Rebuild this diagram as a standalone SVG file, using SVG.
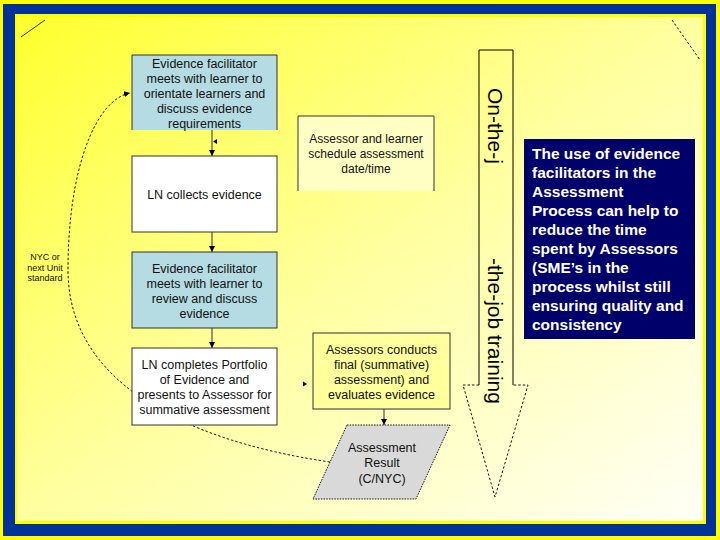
<svg xmlns="http://www.w3.org/2000/svg" width="720" height="540" viewBox="0 0 720 540">
<defs>
<linearGradient id="bg" x1="0" y1="0" x2="1" y2="1">
<stop offset="0" stop-color="#ffff2e"/>
<stop offset="0.5" stop-color="#ffffa0"/>
<stop offset="1" stop-color="#fffff8"/>
</linearGradient>
<marker id="ah" viewBox="0 0 8 8" refX="8" refY="4" markerWidth="6" markerHeight="6" orient="auto" markerUnits="userSpaceOnUse">
<path d="M0,0 L8,4 L0,8 z" fill="#000"/>
</marker>
<style>
.box{stroke:#333;stroke-width:1}
.blue{fill:#b4dce2}
.white{fill:#ffffff}
.t{font-family:"Liberation Sans",Arial,sans-serif;font-size:12.5px;fill:#111;text-anchor:middle}
.sm{font-size:12px}
.conn{stroke:#333;stroke-width:1;fill:none}
.dash{stroke:#000;stroke-width:0.9;fill:none;stroke-dasharray:2.5 2}
.note{font-family:"Liberation Sans",Arial,sans-serif;font-size:15.5px;font-weight:bold;fill:#fff}
.big{font-family:"Liberation Sans",Arial,sans-serif;font-size:21px;fill:#000}
</style>
</defs>
<rect x="0" y="0" width="720" height="540" fill="#ffff00"/>
<rect x="3" y="4" width="713" height="532" fill="#003399"/>
<rect x="15" y="14" width="691" height="510" fill="#ffff00"/>
<rect x="17" y="17" width="686" height="504" fill="url(#bg)"/>
<line x1="21" y1="37" x2="45" y2="20" stroke="#000" stroke-width="0.8"/>
<line x1="672" y1="20" x2="700" y2="60" class="dash" stroke-width="0.7"/>

<g id="connectors">
<path class="dash" d="M330,462 C180,440 68,380 68,270 C68,170 95,100 130,93" marker-end="url(#ah)"/>
<line class="conn" x1="212" y1="130" x2="212" y2="156" marker-end="url(#ah)"/>
<line class="conn" x1="212" y1="232" x2="212" y2="252" marker-end="url(#ah)"/>
<line class="conn" x1="212" y1="328" x2="212" y2="348" marker-end="url(#ah)"/>
<line class="conn" x1="384" y1="409" x2="384" y2="425" marker-end="url(#ah)"/>
<path d="M217,139 L213,141.5 L217,144 z" fill="#000"/>
<path d="M303,381.5 L307,384 L303,386.5 z" fill="#000"/>
</g>

<g id="arrow">
<path d="M479,385 L479,50 L513,50 L513,385" fill="none" stroke="#000" stroke-width="1"/>
<path d="M479,385 L463,385 L495,497 L528,385 L513,385" class="dash"/>
<text class="big" transform="translate(488,88) rotate(90)">On-the-j</text>
<text class="big" transform="translate(488,258) rotate(90)">-the-job training</text>
</g>

<g id="n1">
<rect x="132" y="55" width="145" height="75" class="blue"/>
<path d="M132,130 L132,55 L277,55 L277,130" fill="none" stroke="#333"/>
<text class="t"><tspan x="204.5" y="68">Evidence facilitator</tspan><tspan x="204.5" y="83">meets with learner to</tspan><tspan x="204.5" y="98">orientate learners and</tspan><tspan x="204.5" y="113">discuss evidence</tspan><tspan x="204.5" y="128">requirements</tspan></text>
</g>
<g id="n2">
<rect x="132" y="156" width="145" height="76" class="box white"/>
<text class="t" x="204.5" y="199">LN collects evidence</text>
</g>
<g id="n3">
<rect x="132" y="252" width="145" height="76" class="box blue"/>
<text class="t"><tspan x="204.5" y="273">Evidence facilitator</tspan><tspan x="204.5" y="288">meets with learner to</tspan><tspan x="204.5" y="303">review and discuss</tspan><tspan x="204.5" y="318">evidence</tspan></text>
</g>
<g id="n4">
<rect x="132" y="348" width="145" height="77" class="box white"/>
<text class="t"><tspan x="204.5" y="369">LN completes Portfolio</tspan><tspan x="204.5" y="384">of Evidence and</tspan><tspan x="204.5" y="399">presents to Assessor for</tspan><tspan x="204.5" y="414">summative assessment</tspan></text>
</g>
<g id="n5">
<rect x="298" y="116" width="136" height="75" fill="#ffffc4"/>
<path d="M298,191 L298,116 L434,116 L434,191" fill="none" stroke="#333"/>
<text class="t sm"><tspan x="366" y="143">Assessor and learner</tspan><tspan x="366" y="158">schedule assessment</tspan><tspan x="366" y="173">date/time</tspan></text>
</g>
<g id="n6">
<rect x="313" y="333" width="137" height="76" class="box" fill="#ffff9c"/>
<text class="t"><tspan x="381.5" y="354">Assessors conducts</tspan><tspan x="381.5" y="369">final (summative)</tspan><tspan x="381.5" y="384">assessment) and</tspan><tspan x="381.5" y="399">evaluates evidence</tspan></text>
</g>
<g id="n7">
<path d="M347,425 L450,425 L416,499 L313,499 z" fill="#d9d9d9" stroke="#000" stroke-width="0.9" stroke-dasharray="1.5 1.2"/>
<text class="t"><tspan x="382" y="452">Assessment</tspan><tspan x="382" y="467">Result</tspan><tspan x="382" y="483">(C/NYC)</tspan></text>
</g>
<g id="label-nyc">
<text class="t" style="font-size:9px"><tspan x="45" y="260">NYC or</tspan><tspan x="45" y="271">next Unit</tspan><tspan x="45" y="281">standard</tspan></text>
</g>
<g id="note">
<rect x="524" y="139" width="171" height="200" fill="#00006b"/>
<text class="note"><tspan x="532" y="159">The use of evidence</tspan><tspan x="532" y="178">facilitators in the</tspan><tspan x="532" y="197">Assessment</tspan><tspan x="532" y="216">Process can help to</tspan><tspan x="532" y="235">reduce the time</tspan><tspan x="532" y="254">spent by Assessors</tspan><tspan x="532" y="273">(SME’s in the</tspan><tspan x="532" y="292">process whilst still</tspan><tspan x="532" y="311">ensuring quality and</tspan><tspan x="532" y="330">consistency</tspan></text>
</g>
</svg>
